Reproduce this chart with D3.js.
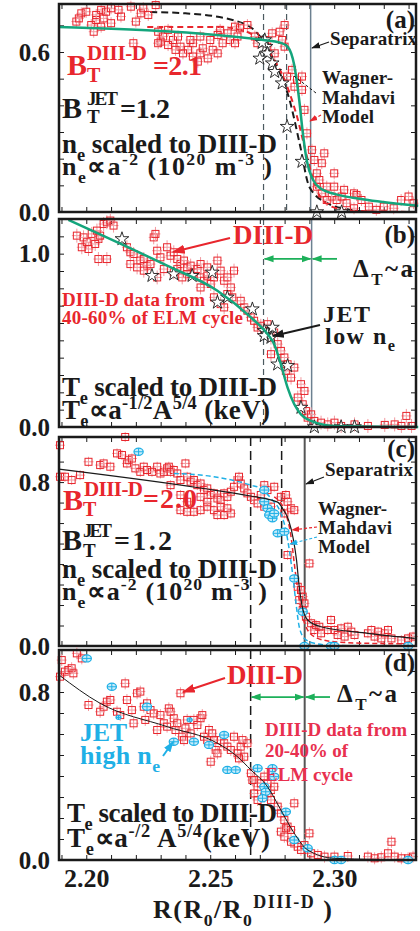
<!DOCTYPE html>
<html><head><meta charset="utf-8">
<script src="https://cdn.jsdelivr.net/npm/d3@7"></script>
<style>
body{margin:0;background:#fff}
svg{display:block}
text{font-family:"Liberation Serif","Times New Roman",serif;font-weight:bold}
</style></head>
<body><svg id="c" width="420" height="931"></svg>
<script>
// ---------------- DATA ----------------
const X_DOMAIN = [2.189, 2.333];
const xLabelTicks = [2.20, 2.25, 2.30];
const aYLabels = [0.0, 0.6];
const bYLabels = [0.0, 1.0];
const cYLabels = [0.0, 0.8];
const dYLabels = [0.0, 0.8];

// panel (a) density
const aRed = [[2.196,0.714],[2.198,0.745],[2.200,0.751],[2.197,0.726],[2.202,0.701],[2.204,0.72],[2.204,0.739],[2.206,0.758],[2.207,0.726],[2.208,0.751],[2.210,0.764],[2.210,0.708],[2.206,0.695],[2.203,0.676],[2.213,0.758],[2.214,0.733],[2.222,0.745],[2.223,0.764],[2.225,0.739],[2.228,0.776],[2.220,0.714],[2.218,0.77],[2.219,0.633],
[2.229,0.676],[2.231,0.658],[2.233,0.683],[2.235,0.645],[2.238,0.62],[2.241,0.608],[2.243,0.633],[2.246,0.595],[2.249,0.576],[2.251,0.608],[2.254,0.683],[2.257,0.67],[2.260,0.695],[2.262,0.689],[2.265,0.701],[2.239,0.595],[2.245,0.564],[2.247,0.614],[2.250,0.645],[2.253,0.595],[2.255,0.633],[2.258,0.645],[2.261,0.658],[2.246,0.658],[2.243,0.583],[2.236,0.608],[2.230,0.639],[2.233,0.626],[2.237,0.658],[2.229,0.633],[2.242,0.645],[2.253,0.664],[2.260,0.633],
[2.268,0.658],[2.269,0.633],[2.272,0.645],[2.273,0.62],[2.275,0.67],[2.276,0.595],[2.278,0.676],[2.280,0.701],[2.279,0.645],[2.280,0.62],[2.281,0.508],[2.283,0.533],[2.284,0.47],[2.285,0.495],[2.287,0.508],[2.287,0.458],[2.288,0.383],[2.289,0.295],[2.291,0.233],[2.292,0.195],[2.293,0.145],[2.295,0.183],[2.296,0.22],[2.294,0.12],[2.293,0.095],[2.295,0.07],[2.297,0.095],[2.299,0.058],[2.300,0.145],[2.301,0.045],[2.303,0.058],[2.305,0.033],[2.308,0.07],[2.311,0.045],[2.314,0.02],[2.320,0.02],[2.327,0.045],[2.330,0.058],[2.332,0.033],[2.324,0.014],[2.297,0.045],[2.304,0.083],[2.309,0.064],[2.300,0.095],[2.317,0.008],[2.308,0.014]];
const aStars = [[2.272,0.645],[2.2725,0.62],[2.271,0.635],[2.273,0.595],[2.270,0.576],[2.275,0.558],[2.276,0.526],[2.279,0.483],[2.281,0.32],[2.287,0.189],[2.293,0.0],[2.303,0.0]];
const aGreenFit = [[2.1887,0.694],[2.2714,0.645],[2.2785,0.634],[2.2812,0.62],[2.2839,0.55],[2.2859,0.42],[2.2873,0.30],[2.2890,0.19],[2.2915,0.12],[2.2950,0.085],[2.3001,0.068],[2.3136,0.045],[2.3339,0.023]];
const aBlackDash = [[2.2258,0.75],[2.2400,0.745],[2.2590,0.72],[2.2680,0.68],[2.2715,0.64],[2.2770,0.544],[2.2820,0.42],[2.2860,0.26],[2.2900,0.094],[2.2970,0.034],[2.3070,0.008],[2.3150,0.0]];
const aRedDash = [[2.2246,0.694],[2.2530,0.694],[2.2650,0.675],[2.2730,0.608],[2.2800,0.495],[2.2850,0.358],[2.2890,0.208],[2.2930,0.083],[2.2990,0.02],[2.3070,0.005],[2.3339,0.0]];
const aDashed = [2.2715, 2.2808];
const aSep = 2.2905;

// panel (b) temperature
const bRed = [[2.1962,1.104],[2.1989,1.094],[2.1982,1.037],[2.2002,1.066],[2.2022,1.114],[2.2043,1.133],[2.2049,1.085],[2.2056,1.104],[2.2070,1.171],[2.2083,1.181],[2.2097,1.191],[2.2110,1.162],[2.2049,0.969],[2.2083,0.969],[2.2009,1.027],[2.2036,1.056],[2.2164,1.037],[2.2178,1.008],[2.2191,0.998],[2.2218,0.96],[2.2232,0.969],[2.2245,0.931],[2.2259,0.94],[2.2286,1.017],[2.2299,0.979],[2.2272,1.094],[2.2279,1.114],[2.2326,1.037],[2.2340,0.988],[2.2353,1.008],[2.2367,0.969],[2.2380,0.94],[2.2394,0.96],[2.2407,0.921],[2.2421,0.931],[2.2434,0.892],[2.2448,0.911],[2.2461,0.863],[2.2475,0.844],[2.2488,0.873],[2.2502,0.825],[2.2515,0.863],[2.2542,0.902],[2.2556,0.844],[2.2569,0.863],[2.2583,0.805],[2.2596,0.902],[2.2407,0.882],[2.2387,0.863],[2.2367,0.911],[2.2461,0.94],[2.2488,0.921],[2.2529,0.96],[2.2569,0.767],[2.2589,0.748],[2.2623,0.728],[2.2637,0.69],[2.2650,0.671],[2.2664,0.632],[2.2677,0.613],[2.2691,0.574],[2.2704,0.584],[2.2718,0.555],[2.2731,0.593],[2.2745,0.516],[2.2758,0.545],[2.2745,0.42],[2.2772,0.478],[2.2785,0.439],[2.2799,0.401],[2.2812,0.362],[2.2805,0.324],[2.2826,0.285],[2.2839,0.343],[2.2866,0.247],[2.2880,0.208],[2.2853,0.17],[2.2873,0.131],[2.2886,0.092],[2.2893,0.054],[2.2907,0.073],[2.2920,0.035],[2.2947,0.025],[2.2974,0.015],[2.3001,0.025],[2.3028,0.006],[2.3082,0.015],[2.3136,0.006],[2.3204,0.012],[2.3244,0.015],[2.3291,0.064],[2.3312,0.006],[2.3271,0.006],[2.2178,0.94],[2.2205,0.921],[2.2232,0.902],[2.2286,0.863],[2.2313,0.911],[2.2353,0.892],[2.2542,0.709],[2.2461,0.805],[2.2515,0.748],[2.2556,0.69]];
const bStars = [[2.2144,1.085],[2.2265,0.873],[2.2353,0.882],[2.2427,0.873],[2.2508,0.892],[2.2569,0.748],[2.2529,0.719],[2.2670,0.68],[2.2718,0.555],[2.2731,0.536],[2.2745,0.516],[2.2718,0.526],[2.2751,0.574],[2.2772,0.362],[2.2812,0.353],[2.2866,0.112],[2.2920,0.0],[2.3028,0.0],[2.3082,0.0]];
const bGreenFit = [[2.1928,1.195],[2.2124,1.066],[2.2326,0.931],[2.2529,0.786],[2.2664,0.632],[2.2731,0.536],[2.2758,0.478],[2.2785,0.362],[2.2812,0.227],[2.2839,0.131],[2.2866,0.073],[2.2907,0.035],[2.3001,0.006],[2.3339,0.0]];
const bDashed = [2.2715];
const bSep = 2.2909;
const bDeltaY = 0.97;

// panel (c) density
const cRed = [[2.1894,0.98],[2.1894,0.826],[2.1914,0.826],[2.1941,0.81],[2.1975,0.834],[2.2009,0.899],[2.2056,0.883],[2.2070,0.891],[2.2097,0.875],[2.2124,0.94],[2.2144,0.932],[2.2164,0.891],[2.2171,0.907],[2.2184,0.915],[2.2157,1.02],[2.2198,0.867],[2.2218,0.85],[2.2232,0.875],[2.2245,0.859],[2.2265,0.85],[2.2286,0.875],[2.2299,0.842],[2.2313,0.85],[2.2326,0.867],[2.2333,0.875],[2.2340,0.85],[2.2353,0.859],[2.2367,0.842],[2.2380,0.81],[2.2400,0.891],[2.2407,0.826],[2.2421,0.802],[2.2434,0.81],[2.2448,0.785],[2.2461,0.793],[2.2475,0.761],[2.2488,0.769],[2.2502,0.737],[2.2515,0.745],[2.2529,0.72],[2.2542,0.712],[2.2556,0.745],[2.2569,0.728],[2.2583,0.753],[2.2596,0.777],[2.2610,0.81],[2.2616,0.826],[2.2623,0.793],[2.2637,0.769],[2.2650,0.745],[2.2664,0.728],[2.2677,0.712],[2.2691,0.696],[2.2704,0.737],[2.2718,0.785],[2.2731,0.761],[2.2758,0.777],[2.2718,0.68],[2.2745,0.68],[2.2785,0.728],[2.2805,0.737],[2.2812,0.704],[2.2826,0.672],[2.2839,0.663],[2.2799,0.647],[2.2812,0.444],[2.2900,0.403],[2.2853,0.289],[2.2866,0.273],[2.2873,0.241],[2.2859,0.224],[2.2880,0.208],[2.2873,0.176],[2.2886,0.143],[2.2907,0.111],[2.2920,0.078],[2.2927,0.102],[2.2940,0.094],[2.2947,0.062],[2.2974,0.078],[2.2987,0.127],[2.3001,0.078],[2.3014,0.054],[2.3028,0.086],[2.3042,0.046],[2.3055,0.094],[2.3069,0.07],[2.3082,0.054],[2.3136,0.062],[2.3150,0.078],[2.3163,0.046],[2.3177,0.07],[2.3190,0.037],[2.3204,0.062],[2.3217,0.078],[2.3231,0.037],[2.3271,0.029],[2.3298,0.037],[2.3318,0.046],[2.2380,0.663],[2.2407,0.655],[2.2434,0.655],[2.2461,0.663],[2.2488,0.68],[2.2515,0.663],[2.2529,0.639],[2.2556,0.639],[2.2583,0.647],[2.2488,0.704],[2.2542,0.68],[2.2407,0.704],[2.2380,0.737],[2.2340,0.785],[2.2461,0.728],[2.2569,0.672]];
const cBlue = [[2.2211,0.948],[2.2718,0.761],[2.2718,0.704],[2.2731,0.672],[2.2745,0.655],[2.2738,0.639],[2.2751,0.623],[2.2758,0.647],[2.2772,0.55],[2.2799,0.558],[2.2839,0.33],[2.2873,0.167],[2.2880,0.0],[2.2987,0.0],[2.3001,0.0],[2.3298,0.0]];
const cBlackFit = [[2.189,0.863],[2.2460,0.771],[2.2663,0.732],[2.2772,0.702],[2.2796,0.663],[2.2816,0.615],[2.2836,0.517],[2.2848,0.42],[2.2858,0.30],[2.2870,0.20],[2.2893,0.127],[2.2947,0.094],[2.3136,0.062],[2.3325,0.037]];
const cBlueDash = [[2.2353,0.842],[2.2515,0.826],[2.2664,0.785],[2.2704,0.769],[2.2745,0.72],[2.2785,0.647],[2.2805,0.566],[2.2819,0.468],[2.2832,0.354],[2.2846,0.208],[2.2859,0.094],[2.2880,0.037],[2.2920,0.013],[2.3001,0.003],[2.3136,0.0]];
const cRedDash = [[2.2758,0.728],[2.2799,0.663],[2.2826,0.533],[2.2839,0.403],[2.2853,0.273],[2.2873,0.143],[2.2893,0.078],[2.2934,0.037],[2.3001,0.021],[2.3136,0.013],[2.3312,0.01]];
const cDashed = [2.2663, 2.2788];
const cSep = 2.2881;

// panel (d) temperature
const dRed = [[2.1894,0.873],[2.1901,0.952],[2.1914,0.897],[2.1928,0.905],[2.1941,0.913],[2.1948,0.889],[2.1962,0.984],[2.1982,0.96],[2.2009,0.738],[2.2056,0.706],[2.2070,0.73],[2.2083,0.754],[2.2097,0.762],[2.2124,0.706],[2.2137,0.69],[2.2157,0.841],[2.2164,0.762],[2.2184,0.714],[2.2191,0.651],[2.2205,0.794],[2.2218,0.802],[2.2232,0.73],[2.2238,0.667],[2.2245,0.746],[2.2259,0.714],[2.2272,0.698],[2.2286,0.619],[2.2299,0.69],[2.2313,0.651],[2.2326,0.635],[2.2333,0.722],[2.2340,0.706],[2.2353,0.675],[2.2360,0.619],[2.2367,0.651],[2.2380,0.794],[2.2387,0.587],[2.2394,0.571],[2.2400,0.627],[2.2407,0.667],[2.2421,0.603],[2.2434,0.667],[2.2448,0.643],[2.2461,0.675],[2.2468,0.69],[2.2475,0.587],[2.2488,0.571],[2.2495,0.619],[2.2502,0.468],[2.2508,0.603],[2.2515,0.571],[2.2522,0.524],[2.2529,0.508],[2.2542,0.571],[2.2556,0.556],[2.2569,0.54],[2.2583,0.524],[2.2596,0.587],[2.2610,0.508],[2.2623,0.54],[2.2637,0.492],[2.2650,0.556],[2.2664,0.413],[2.2677,0.381],[2.2691,0.349],[2.2704,0.365],[2.2718,0.397],[2.2731,0.317],[2.2745,0.333],[2.2677,0.317],[2.2691,0.286],[2.2718,0.302],[2.2745,0.286],[2.2758,0.349],[2.2772,0.254],[2.2785,0.222],[2.2799,0.19],[2.2812,0.159],[2.2826,0.143],[2.2839,0.27],[2.2839,0.079],[2.2853,0.063],[2.2866,0.048],[2.2880,0.071],[2.2893,0.048],[2.2900,0.127],[2.2907,0.032],[2.2934,0.024],[2.2961,0.016],[2.3001,0.016],[2.3055,0.019],[2.3136,0.016],[2.3163,0.008],[2.3190,0.013],[2.3217,0.032],[2.3231,0.087],[2.3244,0.016],[2.3271,0.008],[2.3298,0.008],[2.3318,0.016],[2.2616,0.484],[2.2785,0.135],[2.2799,0.111],[2.2826,0.087],[2.2805,0.151],[2.2630,0.571],[2.2670,0.381],[2.2731,0.365]];
const dBlue = [[2.2002,0.96],[2.2103,0.825],[2.2245,0.73],[2.2353,0.563],[2.2434,0.563],[2.2495,0.548],[2.2556,0.595],[2.2569,0.429],[2.2603,0.429],[2.2691,0.437],[2.2751,0.437],[2.2718,0.349],[2.2724,0.325],[2.2711,0.294],[2.2758,0.397],[2.2805,0.23],[2.2839,0.095],[2.2893,0.056],[2.3001,0.0],[2.3028,0.0],[2.3298,0.0]];
const dBlueSmall = [[2.2417,0.667],[2.2130,0.679]];
const dBlackFit = [[2.189,0.881],[2.2056,0.746],[2.2326,0.635],[2.2529,0.556],[2.2610,0.492],[2.2664,0.429],[2.2731,0.349],[2.2785,0.238],[2.2839,0.127],[2.2893,0.048],[2.3001,0.008],[2.3325,0.0]];
const dDashed = [2.2663];
const dSep = 2.2881;
const dDeltaY = 0.776;

// ---------------- DRAW ----------------
const RED = "#e8262d", BLUE = "#1fb0e6", GREEN = "#14a57c", GARROW = "#1db05a", BLACK = "#1a1a1a";
const svg = d3.select("#c");
const defs = svg.append("defs");
function mk(id, color, w) {
  defs.append("marker").attr("id", id).attr("viewBox", "0 0 10 10").attr("refX", 9).attr("refY", 5)
    .attr("markerUnits", "userSpaceOnUse").attr("markerWidth", w).attr("markerHeight", w)
    .attr("orient", "auto-start-reverse")
    .append("path").attr("d", "M0,1.5L10,5L0,8.5z").attr("fill", color);
}
mk("ab", BLACK, 12); mk("ar", RED, 13); mk("ag", GARROW, 10); mk("abl", BLUE, 11); mk("abs", BLACK, 9); mk("ars", RED, 8); mk("abls", BLUE, 8);

const L = 59, R = 416;
const x = d3.scaleLinear().domain(X_DOMAIN).range([L, R]);
const line = (xs, ys) => d3.line().x(d => xs(d[0])).y(d => ys(d[1])).curve(d3.curveMonotoneX);

function frame(top, bottom, ymax, labels, tickStep) {
  const y = d3.scaleLinear().domain([0, ymax]).range([bottom, top]);
  const g = svg.append("g");
  const xt = d3.range(2.19, 2.3335, 0.01);
  const yt = d3.range(0, ymax + 1e-9, tickStep);
  g.append("g").attr("transform", `translate(0,${bottom})`).call(d3.axisBottom(x).tickValues(xt).tickSize(-5).tickFormat(""));
  g.append("g").attr("transform", `translate(0,${top})`).call(d3.axisTop(x).tickValues(xt).tickSize(-5).tickFormat(""));
  g.append("g").attr("transform", `translate(${L},0)`).call(d3.axisLeft(y).tickValues(yt).tickSize(-5).tickFormat(""));
  g.append("g").attr("transform", `translate(${R},0)`).call(d3.axisRight(y).tickValues(yt).tickSize(-5).tickFormat(""));
  g.selectAll(".domain").remove();
  g.selectAll(".tick line").attr("stroke", BLACK).attr("stroke-width", 1);
  const lab = g.append("g").attr("transform", `translate(${L},0)`)
    .call(d3.axisLeft(y).tickValues(labels).tickSize(0).tickPadding(9).tickFormat(d3.format(".1f")));
  lab.select(".domain").remove();
  lab.selectAll("text").attr("font-size", 25).attr("font-family", "Liberation Serif").attr("font-weight", "bold").attr("fill", BLACK);
  return y;
}
function border(top, bottom) {
  svg.append("rect").attr("x", L).attr("y", top).attr("width", R - L).attr("height", bottom - top)
    .attr("fill", "none").attr("stroke", BLACK).attr("stroke-width", 2.5);
}
function vlines(y, top, bottom, dashed, sep, dcol, dw, dash, scol, sw) {
  dashed.forEach(v => svg.append("line").attr("x1", x(v)).attr("x2", x(v)).attr("y1", top).attr("y2", bottom)
    .attr("stroke", dcol).attr("stroke-width", dw).attr("stroke-dasharray", dash));
  svg.append("line").attr("x1", x(sep)).attr("x2", x(sep)).attr("y1", top).attr("y2", bottom)
    .attr("stroke", scol).attr("stroke-width", sw);
}
function path(data, y, color, w, dash) {
  svg.append("path").datum(data).attr("d", line(x, y)).attr("fill", "none").attr("stroke", color)
    .attr("stroke-width", w).attr("stroke-dasharray", dash || null);
}
function reds(data, y, eb) {
  const g = svg.append("g");
  const s = g.selectAll("g").data(data).join("g").attr("transform", d => `translate(${x(d[0])},${y(d[1])})`);
  s.append("line").attr("y1", -eb).attr("y2", eb).attr("stroke", "#f29aa0").attr("stroke-width", 1);
  s.append("line").attr("x1", -5).attr("x2", 5).attr("stroke", "#f29aa0").attr("stroke-width", 1);
  s.append("rect").attr("x", -3.5).attr("y", -3.5).attr("width", 7).attr("height", 7)
    .attr("fill", "none").attr("stroke", RED).attr("stroke-width", 1);
}
function blues(data, y, small) {
  const g = svg.append("g");
  const s = g.selectAll("g").data(data).join("g").attr("transform", d => `translate(${x(d[0])},${y(d[1])})`);
  const rx = small ? 2.5 : 4.6, ry = small ? 2 : 3.6;
  s.append("ellipse").attr("rx", rx).attr("ry", ry).attr("fill", "#c9ecfa").attr("stroke", BLUE).attr("stroke-width", 1.2);
  s.append("line").attr("x1", -rx).attr("x2", rx).attr("stroke", BLUE).attr("stroke-width", 1);
  s.append("line").attr("y1", -ry).attr("y2", ry).attr("stroke", BLUE).attr("stroke-width", 1);
}
function stars(data, y) {
  svg.append("g").selectAll("path").data(data).join("path")
    .attr("transform", d => `translate(${x(d[0])},${y(d[1])})`)
    .attr("d", d3.symbol(d3.symbolStar, 58))
    .attr("fill", "#fff").attr("stroke", BLACK).attr("stroke-width", 0.9);
}
function rich(x0, y0, parts, size, color, w) {
  const t = svg.append("text").attr("x", x0).attr("y", y0).attr("font-size", size).attr("fill", color);
  if (w) t.attr("textLength", w).attr("lengthAdjust", "spacing");
  let cur = 0;
  parts.forEach(p => {
    const [str, mode, fs] = p;
    const target = mode === "sub" ? size * 0.3 : mode === "sup" ? -size * 0.38 : 0;
    t.append("tspan").attr("dy", target - cur).attr("font-size", fs || (mode ? size * 0.68 : size))
      .style("white-space", "pre").text(str);
    cur = target;
  });
  return t;
}
function txt(x0, y0, str, size, color, anchor, w) {
  const t = svg.append("text").attr("x", x0).attr("y", y0).attr("font-size", size).attr("fill", color)
    .attr("text-anchor", anchor || "start").text(str);
  if (w) t.attr("textLength", w).attr("lengthAdjust", "spacing");
  return t;
}
function arrow(x1, y1, x2, y2, color, w, m, dash, both) {
  const l = svg.append("line").attr("x1", x1).attr("y1", y1).attr("x2", x2).attr("y2", y2)
    .attr("stroke", color).attr("stroke-width", w).attr("marker-end", `url(#${m})`);
  if (dash) l.attr("stroke-dasharray", dash);
  if (both) l.attr("marker-start", `url(#${m})`);
}

// ---- Panel (a)
const yA = frame(4, 212, 0.78, aYLabels, 0.1);
vlines(yA, 4, 212, aDashed, aSep, "#4c5a60", 1.2, "6,4", "#6c8090", 1.5);
path(aBlackDash, yA, BLACK, 2, "7,4");
path(aRedDash, yA, RED, 2, "6,4");
reds(aRed, yA, 6);
stars(aStars, yA);
path(aGreenFit, yA, GREEN, 2.5);
txt(415, 28, "(a)", 25, BLACK, "end");
txt(330, 45, "Separatrix", 19, BLACK, "start", 87);
arrow(329, 42, 312, 48, BLACK, 1.2, "abs");
txt(322, 84, "Wagner-", 19, BLACK, "start", 71);
txt(322, 104, "Mahdavi", 19, BLACK, "start", 73);
txt(322, 123, "Model", 19, BLACK, "start", 52);
svg.append("line").attr("x1", 316).attr("y1", 93).attr("x2", 294).attr("y2", 76).attr("stroke", BLACK).attr("stroke-width", 1).attr("stroke-dasharray", "3,2");
arrow(321, 115, 310, 121, RED, 1.2, "ars", "3,2");
txt(67, 75, "B", 30, RED);
txt(87, 82, "T", 20, RED);
txt(87, 60, "DIII-D", 21, RED, "start", 60);
txt(153, 75, "=2.1", 28, RED, "start", 49);
txt(62, 118, "B", 30, BLACK);
txt(87, 123, "T", 19, BLACK);
txt(87, 105, "JET", 19, BLACK, "start", 31);
txt(120, 118, "=1.2", 28, BLACK, "start", 50);
rich(62, 153, [["n"], ["e", "sub"], [" scaled to DIII-D"]], 27, BLACK, 215);
rich(62, 175, [["n"], ["e", "sub"], ["∝a"], ["-2", "sup"], [" (10"], ["20", "sup"], [" m"], ["-3", "sup"], [" )"]], 26, BLACK, 210);
border(4, 212);

// ---- Panel (b)
const yB = frame(219, 427, 1.2, bYLabels, 0.1);
vlines(yB, 219, 427, bDashed, bSep, "#4c5a60", 1.2, "6,4", "#6c8090", 1.5);
reds(bRed, yB, 7);
stars(bStars, yB);
path(bGreenFit, yB, GREEN, 2.5);
arrow(x(bDashed[0]) + 1, yB(bDeltaY), x(bSep) - 1, yB(bDeltaY), GARROW, 1.8, "ag", null, true);
arrow(337, yB(bDeltaY), x(bSep) + 1, yB(bDeltaY), GARROW, 1.8, "ag");
txt(415, 243, "(b)", 25, BLACK, "end");
txt(233, 244, "DIII-D", 27, RED, "start", 80);
arrow(230, 238, 173, 252, RED, 2, "ar");
rich(353, 277, [["Δ"], ["T", "sub"], ["~a"]], 25, BLACK, 60);
txt(62, 306, "DIII-D data from", 19, RED, "start", 143);
txt(62, 324, "40-60% of ELM cycle", 19, RED, "start", 181);
txt(323, 322, "JET", 24, BLACK, "start", 47);
rich(325, 344, [["low n"], ["e", "sub"]], 24, BLACK, 70);
arrow(320, 325, 273, 336, BLACK, 2, "ab");
rich(62, 396, [["T"], ["e", "sub"], [" scaled to DIII-D"]], 27, BLACK, 215);
rich(62, 419, [["T"], ["e", "sub"], ["∝a"], ["-1/2", "sup"], ["A"], ["5/4", "sup"], [" (keV)"]], 27, BLACK, 208);
border(219, 427);

// ---- Panel (c)
const yC = frame(437, 646, 1.02, cYLabels, 0.1);
vlines(yC, 437, 646, cDashed, cSep, BLACK, 1.5, "9,5", "#555", 2);
reds(cRed, yC, 5);
path(cBlueDash, yC, BLUE, 1.5, "5,3");
path(cRedDash, yC, RED, 1.5, "5,3");
blues(cBlue, yC);
path(cBlackFit, yC, BLACK, 1.2);
txt(415, 457, "(c)", 25, BLACK, "end");
txt(325, 476, "Separatrix", 19, BLACK, "start", 88);
arrow(324, 477, 306, 484, BLACK, 1.2, "abs");
txt(318, 515, "Wagner-", 19, BLACK, "start", 69);
txt(318, 534, "Mahdavi", 19, BLACK, "start", 74);
txt(318, 553, "Model", 19, BLACK, "start", 52);
arrow(317, 527, 292, 530, RED, 1.2, "ars", "3,2");
arrow(317, 537, 290, 544, BLUE, 1.2, "abls", "3,2");
txt(63, 510, "B", 30, RED);
txt(83, 516, "T", 20, RED);
txt(84, 496, "DIII-D", 21, RED, "start", 59);
txt(143, 508, "=2.0", 28, RED, "start", 54);
txt(62, 550, "B", 30, BLACK);
txt(83, 557, "T", 19, BLACK);
txt(83, 537, "JET", 19, BLACK, "start", 29);
txt(114, 550, "=1.2", 28, BLACK, "start", 58);
rich(62, 578, [["n"], ["e", "sub"], [" scaled to DIII-D"]], 27, BLACK, 215);
rich(62, 600, [["n"], ["e", "sub"], ["∝a"], ["-2", "sup"], [" (10"], ["20", "sup"], [" m"], ["-3", "sup"], [" )"]], 26, BLACK, 205);
border(437, 646);

// ---- Panel (d)
const yD = frame(650, 860, 1.0, dYLabels, 0.1);
vlines(yD, 650, 860, dDashed, dSep, BLACK, 1.5, "9,5", "#555", 2);
reds(dRed, yD, 6);
blues(dBlue, yD);
blues(dBlueSmall, yD, true);
path(dBlackFit, yD, BLACK, 1);
arrow(x(dDashed[0]) + 1, yD(dDeltaY), x(dSep) - 1, yD(dDeltaY), GARROW, 1.8, "ag", null, true);
arrow(330, yD(dDeltaY), x(dSep) + 1, yD(dDeltaY), GARROW, 1.8, "ag");
txt(415, 671, "(d)", 25, BLACK, "end");
txt(227, 684, "DIII-D", 27, RED, "start", 76);
arrow(225, 678, 183, 692, RED, 2, "ar");
rich(337, 702, [["Δ"], ["T", "sub"], ["~a"]], 25, BLACK, 60);
txt(80, 741, "JET", 26, BLUE, "start", 47);
rich(80, 764, [["high n"], ["e", "sub"]], 26, BLUE, 80);
arrow(163, 756, 173, 742, BLUE, 2, "abl");
txt(265, 736, "DIII-D data from", 19, "#e8304f", "start", 142);
txt(265, 757, "20-40% of", 19, "#e8304f", "start", 83);
txt(265, 781, "ELM cycle", 19, "#e8304f", "start", 88);
rich(67, 822, [["T"], ["e", "sub"], [" scaled to DIII-D"]], 27, BLACK, 210);
rich(67, 847, [["T"], ["e", "sub"], ["∝a"], ["-/2", "sup"], [" A"], ["5/4", "sup"], ["(keV)"]], 27, BLACK, 203);
border(650, 860);

// x axis labels
const xl = svg.append("g").attr("transform", "translate(0,860)")
  .call(d3.axisBottom(x).tickValues(xLabelTicks).tickSize(0).tickPadding(9).tickFormat(d3.format(".2f")));
xl.select(".domain").remove();
xl.selectAll("text").attr("font-size", 26).attr("font-family", "Liberation Serif").attr("font-weight", "bold").attr("fill", BLACK);
rich(153, 918, [["R(R"], ["0", "sub"], ["/R"], ["0", "sub"], ["DIII-D", "sup", 18], [" )"]], 26, BLACK, 179);
</script></body></html>
